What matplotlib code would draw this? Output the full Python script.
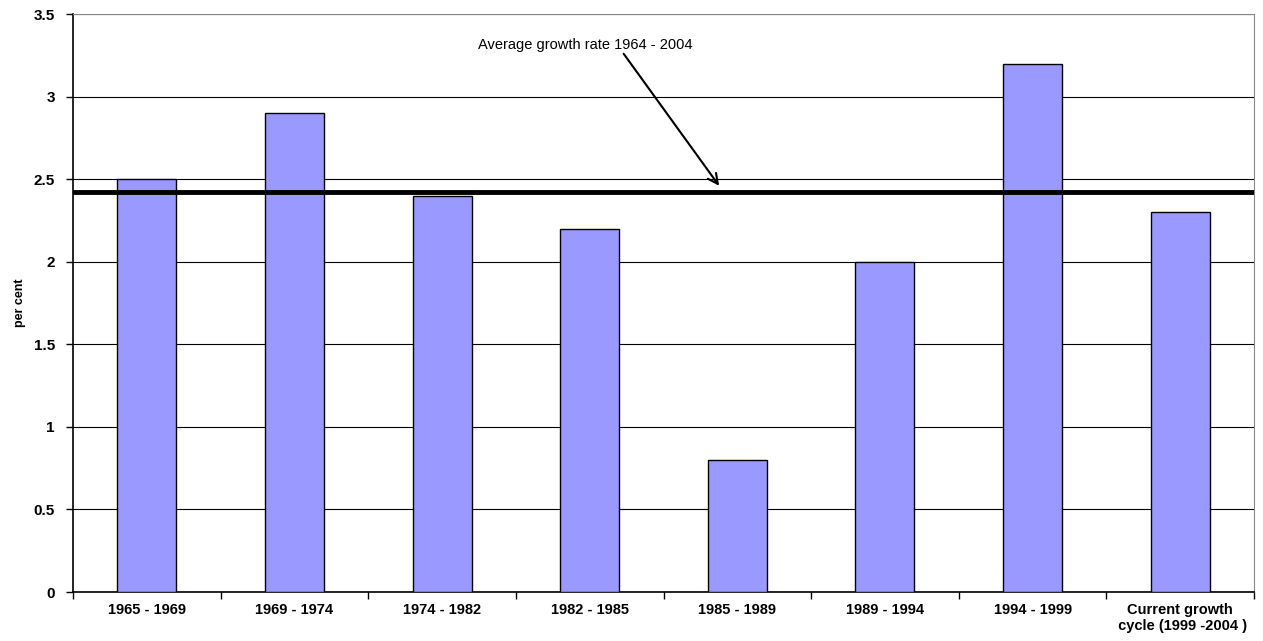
import numpy as np
import matplotlib.pyplot as plt

plt.rcParams['font.family'] = ['Liberation Sans', 'DejaVu Sans']

# Growth rate by cycle
periods = ['1965 - 1969', '1969 - 1974', '1974 - 1982', '1982 - 1985',
           '1985 - 1989', '1989 - 1994', '1994 - 1999',
           'Current growth\n cycle (1999 -2004 )']
growth = [2.5, 2.9, 2.4, 2.2, 0.8, 2.0, 3.2, 2.3]
average_growth = 2.42

fig = plt.figure(figsize=(12.63, 6.41), dpi=100)
ax = fig.add_axes([0.0578, 0.0764, 0.9351, 0.9016])

x = np.arange(len(periods))
ax.bar(x, growth, width=0.4, color='#9999FF', edgecolor='black', linewidth=1.0, zorder=3)

# average line across the whole plot
ax.axhline(average_growth, color='black', linewidth=3.5, zorder=4)

ax.set_xlim(-0.5, len(periods) - 0.5)
ax.set_ylim(0, 3.5)
ax.set_yticks(np.arange(0, 3.51, 0.5))
ax.set_yticklabels(['0', '0.5', '1', '1.5', '2', '2.5', '3', '3.5'], fontweight='bold', fontsize=11)
ax.yaxis.grid(True, color='black', linewidth=0.8, zorder=0)

# tick marks at category boundaries, labels at centres
ax.set_xticks(np.arange(-0.5, len(periods), 1.0))
ax.set_xticklabels([])
ax.set_xticks(x, minor=True)
ax.set_xticklabels(periods, minor=True, fontweight='bold', fontsize=10.5)
ax.tick_params(axis='x', which='major', direction='out', length=5, width=1)
ax.tick_params(axis='x', which='minor', length=0, pad=8)
ax.tick_params(axis='y', direction='out', length=5, width=1, pad=8)

ax.spines['top'].set_color('#888888')
ax.spines['right'].set_color('#888888')
ax.spines['left'].set_linewidth(1.2)
ax.spines['bottom'].set_linewidth(1.2)

ax.set_ylabel('per cent', fontweight='bold', fontsize=9)
ax.yaxis.set_label_coords(-0.04, 0.5)

ax.text(2.97, 3.31, 'Average growth rate 1964 - 2004', fontsize=10.5, ha='center', va='center')
ax.annotate('', xy=(3.877, 2.46), xytext=(3.23, 3.26),
            arrowprops=dict(arrowstyle='->', color='black', lw=1.5,
                            shrinkA=0, shrinkB=0, mutation_scale=18))

plt.savefig('out.png', dpi=100)
